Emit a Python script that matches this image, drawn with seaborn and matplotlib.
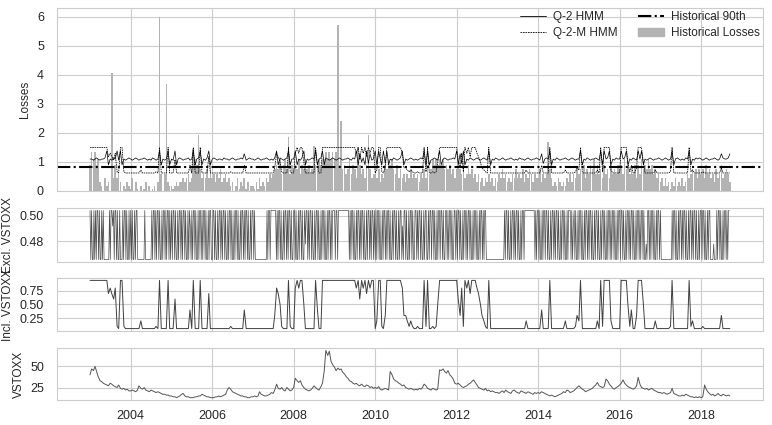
import numpy as np
import pandas as pd
import matplotlib
matplotlib.use("Agg")
import matplotlib.pyplot as plt
import matplotlib.dates as mdates
from matplotlib.lines import Line2D
from matplotlib.patches import Patch
import seaborn as sns

# half-monthly observations, 2003-01-01 .. 2018-09-15
START, END = "2003-01-01", "2018-09-15"
YEARS = list(range(2003, 2019))

# --- historical losses: one code string per year, decoded with LOSS_LEVELS ---
LOSS_LEVELS = [0.0, 0.08, 0.18, 0.3, 0.45, 0.6, 0.75, 0.9, 1.1, 1.35]
LOSS_CODES = [
    "798978320423064745302132",  # 2003
    "140310201302012034505432",  # 2004
    "212323343453458756454647",  # 2005
    "453546345342302413241302",  # 2006
    "213142324354567685786857",  # 2007
    "676857686756576878898989",  # 2008
    "898786756857645756475645",  # 2009
    "546354768786574645354645",  # 2010
    "453546475687878786767564",  # 2011
    "676564575645353424353424",  # 2012
    "354645343546454635465354",  # 2013
    "463545364232432324353546",  # 2014
    "565746576857564756475657",  # 2015
    "675867565747586768675645",  # 2016
    "342423132423242354565646",  # 2017
    "564756453645745653",        # 2018
]
SPIKE_DATES = ["2003-07-15", "2004-09-15", "2004-11-15", "2005-07-15", "2005-09-01",
               "2007-11-15", "2008-07-01", "2009-02-01", "2009-03-01", "2009-08-01",
               "2009-11-01", "2014-04-01"]
SPIKE_VALUES = [4.05, 6.0, 3.7, 1.45, 1.93, 1.85, 1.55, 5.7, 2.4, 1.5, 1.93, 1.7]
HIST_90TH = 0.82

# --- Q-2 HMM forecast ---
Q2_LEVELS = [0.85, 0.9, 0.95, 1.0, 1.06, 1.1, 1.14, 1.28, 1.38, 1.5]
Q2_CODES = [
    "554565455681546584815456",
    "545654556545465458154581",
    "548156545564581568154681",
    "565455465545654556574565",
    "545654556545468165456815",
    "581546815456581568165456",
    "545654556546581736182745",
    "818518281546545681545654",
    "545658181456548156545565",
    "817281546545654565481546",
    "545654556545465545654556",
    "547256581546545565456545",
    "581546545565481856815465",
    "585681546548581545654556",
    "545654581565454658154656",
    "545654556545765567",
]

# --- regime probability, incl. VSTOXX (also drives Q-2-M HMM) ---
INCL_LEVELS = [0.06, 0.1, 0.2, 0.3, 0.4, 0.5, 0.6, 0.7, 0.8, 0.94]
Q2M_LEVELS = [0.62, 0.66, 0.72, 0.8, 0.88, 0.98, 1.08, 1.18, 1.3, 1.5]
INCL_CODES = [
    "999999999997876810991000",
    "000000200000000109000090",
    "006000000004090009000070",
    "000000000001000000040000",
    "000000000000038751000910",
    "089899500000094009999999",
    "999999999999989698979899",
    "029910399999999983321210",
    "010009190010159999999999",
    "963819897999875321090000",
    "000000000000000002000000",
    "004000090000000020000013",
    "290000000002091999920000",
    "099995140039995000000200",
    "000000190000000009120000",
    "010000000000300000",
]

# --- regime probability, excl. VSTOXX: weekly codes, one string per year ---
EXCL_LEVELS = [0.466, 0.504, 0.478, 0.492]
EXCL_CODES = [
    "101001010110100101" "0000000" "10113101101001" "000" "1011010010",
    "1010010110" "00000000100000000" "1011010110100101101011010",
    "1011010010" "1101011010" "0101301011" "0100101101" "0110100101" "10",
    "0110100101" "1010110100" "1011010010" "1101001011" "0101101001" "01",
    "1010" "00000000000000" "10110" "1111111" "0101101001011010110100",
    "1101001011" "0100121101" "0110100101" "1010010110" "1001011010" "11",
    "10110" "11111111111111" "010110100101101011010010110101101",
    "0101101001" "0110101101" "0010110100" "1011030110" "1001011010" "01",
    "1010110100" "1011001011" "0110100101" "1011010011" "0101101001" "10",
    "1011010010" "1101011010" "0101101001" "011010110" "0000000000000",
    "000000000" "10110100101101011010010110" "1111111111111" "0101",
    "1010010110" "1101001011" "0101101001" "0110100101" "1101031010" "01",
    "0110100101" "1010110100" "1011010010" "1101001011" "0101101001" "01",
    "1011010010" "1101011010" "0101101011" "0100201101" "0110100101" "10",
    "10" "0000000000000" "1011010010110101101001011010110100101",
    "1011010010110" "0002000" "10110100101101011",
]

VSTOXX = [
    40, 47, 45, 50, 44, 38, 33, 32, 30, 29, 28, 27, 30, 29, 27, 26, 25, 28, 24, 23, 24, 22, 23, 21,
    21, 22, 21, 20, 22, 27, 24, 23, 25, 22, 21, 20, 22, 21, 20, 19, 20, 19, 18, 17, 17, 16, 16, 15,
    15, 14, 14, 13, 14, 15, 17, 18, 15, 14, 14, 13, 13, 13, 14, 14, 15, 15, 17, 16, 15, 14, 14, 13,
    13, 13, 14, 14, 15, 14, 15, 16, 17, 22, 25, 23, 20, 19, 18, 17, 16, 15, 15, 14, 14, 13, 13, 14,
    14, 15, 14, 15, 20, 17, 16, 15, 15, 16, 17, 19, 18, 22, 29, 24, 23, 25, 22, 21, 25, 23, 21, 22,
    25, 36, 33, 31, 33, 28, 25, 23, 22, 21, 22, 24, 27, 25, 23, 22, 26, 30, 45, 69, 63, 68, 56, 52,
    49, 45, 48, 46, 47, 43, 41, 38, 36, 33, 32, 30, 29, 30, 28, 27, 29, 27, 26, 28, 27, 25, 26, 24,
    25, 24, 26, 23, 22, 23, 24, 23, 22, 44, 40, 35, 33, 32, 30, 29, 27, 28, 25, 24, 23, 24, 23, 22,
    23, 22, 24, 23, 25, 29, 27, 24, 23, 22, 24, 23, 22, 23, 46, 45, 47, 44, 42, 45, 40, 38, 35, 30,
    29, 30, 28, 26, 25, 26, 27, 29, 30, 32, 34, 31, 28, 25, 24, 23, 22, 24, 21, 22, 20, 21, 20, 19,
    19, 18, 20, 21, 19, 22, 20, 19, 18, 21, 22, 20, 19, 18, 21, 20, 19, 18, 20, 19, 18, 17, 19, 18,
    19, 18, 20, 19, 18, 17, 16, 15, 16, 15, 14, 15, 16, 17, 18, 20, 19, 22, 21, 19, 20, 21, 23, 25,
    27, 25, 23, 22, 20, 21, 22, 23, 24, 26, 28, 31, 27, 26, 25, 26, 35, 33, 29, 27, 24, 23, 25, 26,
    28, 30, 34, 30, 28, 26, 25, 24, 23, 24, 27, 37, 29, 25, 24, 23, 24, 22, 23, 24, 22, 21, 20, 19,
    19, 18, 19, 18, 17, 18, 19, 24, 18, 17, 16, 15, 15, 16, 15, 17, 16, 15, 14, 14, 13, 14, 13, 14,
    13, 14, 28, 23, 20, 18, 16, 17, 15, 16, 18, 16, 15, 17, 16, 15, 16, 15,
]


def decode(codes, levels):
    for i, s in enumerate(codes):
        assert len(s) == (24 if i < len(codes) - 1 else 18), (i, len(s))
    return [levels[int(c)] for c in "".join(codes)]


dates = pd.date_range(START, END, freq="SMS")
df = pd.DataFrame({
    "date": dates,
    "losses": decode(LOSS_CODES, LOSS_LEVELS),
    "q2": decode(Q2_CODES, Q2_LEVELS),
    "q2m": decode(INCL_CODES, Q2M_LEVELS),
    "incl": decode(INCL_CODES, INCL_LEVELS),
    "vstoxx": VSTOXX,
}).set_index("date")
df.loc[pd.to_datetime(SPIKE_DATES), "losses"] = SPIKE_VALUES
df = df.reset_index()

# weekly excl. VSTOXX series
excl_parts = []
for year, s in zip(YEARS, EXCL_CODES):
    excl_parts.append(pd.DataFrame({
        "date": pd.date_range(f"{year}-01-01", periods=len(s), freq="7D"),
        "excl": [EXCL_LEVELS[int(c)] for c in s],
    }))
excl = pd.concat(excl_parts, ignore_index=True)

sns.set_style("whitegrid")
plt.rcParams["font.family"] = ["Liberation Sans", "DejaVu Sans"]
plt.rcParams["xtick.labelsize"] = 9
plt.rcParams["ytick.labelsize"] = 9
plt.rcParams["ytick.major.pad"] = 6
plt.rcParams["axes.labelsize"] = 8.5

fig = plt.figure(figsize=(7.72, 4.25), dpi=100)
left, width = 0.074, 0.914
ax1 = fig.add_axes([left, 0.5506, width, 0.4306])
ax2 = fig.add_axes([left, 0.3835, width, 0.127], sharex=ax1)
ax3 = fig.add_axes([left, 0.2212, width, 0.1247], sharex=ax1)
ax4 = fig.add_axes([left, 0.0588, width, 0.1224], sharex=ax1)

grey_line = "#404040"

# Panel 1: losses and forecasts
ax1.bar(df["date"], df["losses"], width=14.5, color="#b3b3b3", linewidth=0)
sns.lineplot(data=df, x="date", y="q2", ax=ax1, color="black", linewidth=0.5)
sns.lineplot(data=df, x="date", y="q2m", ax=ax1, color="black", linewidth=0.55,
             linestyle=(0, (2, 1)))
ax1.axhline(HIST_90TH, color="black", linewidth=1.5, linestyle="-.")
ax1.set_ylabel("Losses")
ax1.set_yticks([0, 1, 2, 3, 4, 5, 6])

handles = [
    Line2D([], [], color="black", linewidth=0.6),
    Line2D([], [], color="black", linewidth=0.6, linestyle=(0, (2, 1))),
    Line2D([], [], color="black", linewidth=1.5, linestyle="-."),
    Patch(color="#b3b3b3"),
]
labels = ["Q-2 HMM", "Q-2-M HMM", "Historical 90th", "Historical Losses"]
ax1.legend(handles, labels, ncol=2, loc="upper right", frameon=False, fontsize=8.5,
           borderaxespad=0.0, borderpad=0.25, columnspacing=1.7, handlelength=2.2,
           handletextpad=0.6, labelspacing=0.35)

# Panel 2: excl. VSTOXX
sns.lineplot(data=excl, x="date", y="excl", ax=ax2, color="#505050", linewidth=0.5)
ax2.set_ylabel("Excl. VSTOXX")
ax2.set_yticks([0.48, 0.50])
ax2.set_yticklabels(["0.48", "0.50"])

# Panel 3: incl. VSTOXX
sns.lineplot(data=df, x="date", y="incl", ax=ax3, color=grey_line, linewidth=0.7)
ax3.set_ylabel("Incl. VSTOXX")
ax3.set_yticks([0.25, 0.50, 0.75])
ax3.set_yticklabels(["0.25", "0.50", "0.75"])

# Panel 4: VSTOXX level
sns.lineplot(data=df, x="date", y="vstoxx", ax=ax4, color="#555555", linewidth=0.7)
ax4.set_ylabel("VSTOXX")
ax4.set_yticks([25, 50])

for ax in (ax1, ax2, ax3, ax4):
    ax.set_xlabel("")
    ax.xaxis.set_major_locator(mdates.YearLocator(2))
    ax.xaxis.set_major_formatter(mdates.DateFormatter("%Y"))
for ax in (ax1, ax2, ax3):
    ax.tick_params(axis="x", labelbottom=False)

fig.savefig("out.png", dpi=100)
